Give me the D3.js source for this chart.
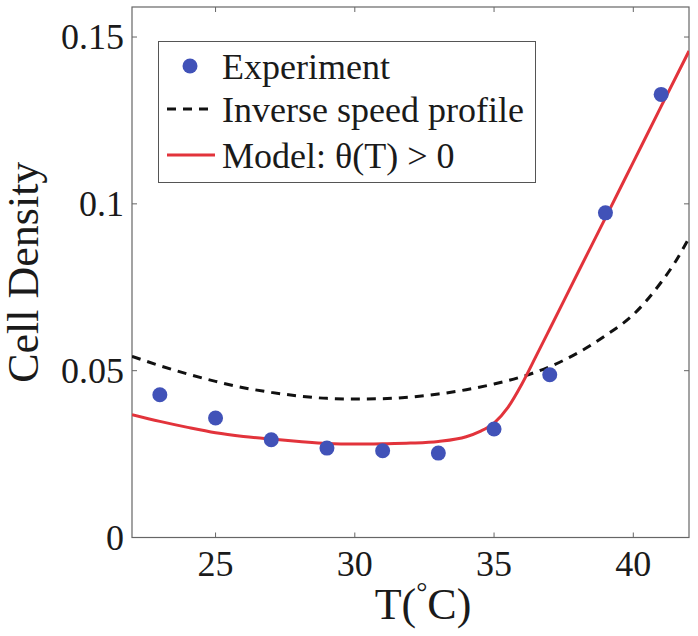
<!DOCTYPE html>
<html><head><meta charset="utf-8">
<script src="https://cdn.jsdelivr.net/npm/d3@7"></script>
<style>body{margin:0;background:#fff}svg{display:block}text{font-family:"Liberation Serif","Times New Roman",serif;fill:#1a1a1a}</style>
</head><body>
<svg id="c" width="698" height="636"></svg>
<script>
// Data
const expT = [23,25,27,29,31,33,35,37,39,41];
const expDensity = [0.0428,0.0358,0.0293,0.0268,0.0260,0.0253,0.0325,0.0488,0.0973,0.1328];
const invT = [22,23,24,25,26,27,28,29,30,31,32,33,34,35,36,37,38,39,40,41,41.5,42];
const invDensity = [0.0543,0.0515,0.0490,0.0468,0.0449,0.0435,0.0424,0.0417,0.0415,0.0416,0.0421,0.0430,0.0443,0.0460,0.0482,0.0512,0.0553,0.0605,0.0668,0.0765,0.0825,0.0898];
const modelT = [22,23,24,25,26,27,28,29,30,31,32,33,34,34.5,35,35.5,36,36.5,37,38,39,40,41,42];
const modelDensity = [0.0368,0.0348,0.0330,0.0314,0.0303,0.0295,0.0288,0.0282,0.0280,0.0281,0.0283,0.0288,0.0302,0.0318,0.0343,0.0390,0.0460,0.0542,0.0625,0.0792,0.0958,0.1125,0.1292,0.1458];
const xTicks = [25,30,35,40];
const yTicks = [0,0.05,0.1,0.15];
const yTickLabels = ["0","0.05","0.1","0.15"];
const legendLabels = ["Experiment","Inverse speed profile","Model: θ(T) > 0"];

const svg = d3.select("#c");
const L=132, R=689, T=7, B=537.5;
const x = d3.scaleLinear().domain([22,42]).range([L,R]);
const y = d3.scaleLinear().domain([0,0.159]).range([B,T]);
const axisColor = "#666";

// ticks (inward, all sides)
const g = svg.append("g");
xTicks.forEach(v=>{
  g.append("line").attr("x1",x(v)).attr("x2",x(v)).attr("y1",B).attr("y2",B-5).attr("stroke",axisColor);
  g.append("line").attr("x1",x(v)).attr("x2",x(v)).attr("y1",T).attr("y2",T+5).attr("stroke",axisColor);
  g.append("text").attr("x",x(v)).attr("y",B+38).attr("text-anchor","middle").attr("font-size",36).text(v);
});
yTicks.forEach((v,i)=>{
  g.append("line").attr("x1",L).attr("x2",L+5).attr("y1",y(v)).attr("y2",y(v)).attr("stroke",axisColor);
  g.append("line").attr("x1",R).attr("x2",R-5).attr("y1",y(v)).attr("y2",y(v)).attr("stroke",axisColor);
  g.append("text").attr("x",L-8).attr("y",y(v)+12).attr("text-anchor","end").attr("font-size",36).text(yTickLabels[i]);
});
svg.append("rect").attr("x",L).attr("y",T).attr("width",R-L).attr("height",B-T).attr("fill","none").attr("stroke",axisColor).attr("stroke-width",1.2);

// axis labels
svg.append("text").attr("transform",`translate(38,${(T+B)/2}) rotate(-90)`).attr("text-anchor","middle").attr("font-size",44).text("Cell Density");
const xl = svg.append("text").attr("x",423).attr("y",619).attr("text-anchor","middle").attr("font-size",44);
xl.append("tspan").text("T(");
xl.append("tspan").attr("dy",-18).attr("font-size",28).text("°");
xl.append("tspan").attr("dy",18).text("C)");

// clip
svg.append("clipPath").attr("id","clip").append("rect").attr("x",L).attr("y",T).attr("width",R-L).attr("height",B-T);
const plot = svg.append("g").attr("clip-path","url(#clip)");
const line = d3.line().x(d=>x(d[0])).y(d=>y(d[1])).curve(d3.curveMonotoneX);
plot.append("path").datum(invT.map((t,i)=>[t,invDensity[i]])).attr("d",line)
  .attr("fill","none").attr("stroke","#111").attr("stroke-width",3).attr("stroke-dasharray","9,7");
plot.append("path").datum(modelT.map((t,i)=>[t,modelDensity[i]])).attr("d",line)
  .attr("fill","none").attr("stroke","#e2333b").attr("stroke-width",3);
plot.selectAll("circle").data(expT).join("circle")
  .attr("cx",d=>x(d)).attr("cy",(d,i)=>y(expDensity[i])).attr("r",7.5).attr("fill","#4152b8");

// legend
const lg = svg.append("g");
lg.append("rect").attr("x",158.5).attr("y",41.5).attr("width",377).attr("height",141).attr("fill","#fff").attr("stroke","#555").attr("stroke-width",1);
const rows=[66,109,155];
lg.append("circle").attr("cx",190).attr("cy",rows[0]).attr("r",7.5).attr("fill","#4152b8");
lg.append("line").attr("x1",167).attr("x2",215).attr("y1",rows[1]).attr("y2",rows[1]).attr("stroke","#111").attr("stroke-width",3).attr("stroke-dasharray","9,7");
lg.append("line").attr("x1",167).attr("x2",215).attr("y1",rows[2]).attr("y2",rows[2]).attr("stroke","#e2333b").attr("stroke-width",3);
legendLabels.forEach((t,i)=>{
  lg.append("text").attr("x",222).attr("y",rows[i]+13).attr("font-size",36).text(t);
});
</script>
</body></html>
